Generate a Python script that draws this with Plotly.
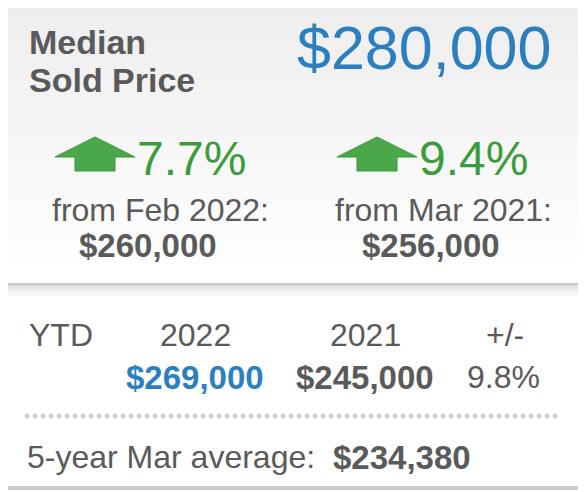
import plotly.graph_objects as go

title_lines = ["Median", "Sold Price"]
median_price = "$280,000"
change_pcts = ["7.7%", "9.4%"]
change_from = ["from Feb 2022:", "from Mar 2021:"]
change_base = ["$260,000", "$256,000"]
ytd_headers = ["YTD", "2022", "2021", "+/-"]
ytd_values = ["", "$269,000", "$245,000", "9.8%"]
avg_label = "5-year Mar average:"
avg_value = "$234,380"

GRAY = "#5a5a5a"
BLUE = "#2b7fc1"
GREEN = "#3c9c3c"
FONT = "Liberation Sans, Arial"

fig = go.Figure()
shapes = []
ann = []

def txt(x, y, s, size, color=GRAY, bold=False, anchor="left"):
    if bold:
        s = "<b>" + s + "</b>"
    ann.append(dict(x=x, y=y, text=s, showarrow=False, xanchor=anchor, yanchor="middle",
                    font=dict(size=size, color=color, family=FONT), xref="x", yref="y"))

# top panel background + shadow
for i, c in enumerate(["#d8d8d8", "#e4e4e4", "#eeeeee", "#f6f6f6"]):
    shapes.append(dict(type="rect", x0=0, x1=600, y0=283 + i * 3, y1=287 + i * 3,
                       fillcolor=c, line_width=0, layer="below"))
for i in range(14):
    g = 238 + int(i * 17 / 13)
    shapes.append(dict(type="rect", x0=0, x1=600, y0=i * 20, y1=i * 20 + 21,
                       fillcolor=f"rgb({g},{g},{g})", line_width=0, layer="below"))
shapes.append(dict(type="rect", x0=1, x1=600, y0=0, y1=284, fillcolor="rgba(0,0,0,0)",
                   line=dict(color="#c8c8c8", width=2)))
shapes.append(dict(type="line", x0=1, x1=1, y0=284, y1=488, line=dict(color="#d0d0d0", width=2)))
shapes.append(dict(type="line", x0=0, x1=600, y0=488, y1=488, line=dict(color="#cccccc", width=4)))

txt(27, 42, title_lines[0], 34, bold=True)
txt(27, 80, title_lines[1], 34, bold=True)
txt(553, 48, median_price, 61, color=BLUE, anchor="right")

for k, x0 in enumerate([55, 337]):
    shapes.append(dict(type="path",
                       path=f"M{x0},157 L{x0+40},137 L{x0+80},157 L{x0+60},157 L{x0+60},171 L{x0+20},171 L{x0+20},157 Z",
                       fillcolor="#4aa84a", line=dict(color="#3c963c", width=1)))
    txt(x0 + 80, 158, change_pcts[k], 48, color=GREEN)
centers = [160, 443]
for k in range(2):
    txt(centers[k], 210, change_from[k], 32, anchor="center")
    txt(centers[k] - 12, 245, change_base[k], 33, bold=True, anchor="center")

cols = [27, 195, 365, 505]
for k in range(4):
    txt(cols[k], 335, ytd_headers[k], 32, anchor="left" if k == 0 else "center")
    if ytd_values[k]:
        txt(cols[k] if k < 3 else 503, 377, ytd_values[k], 33 if k < 3 else 32,
            color=BLUE if k == 1 else GRAY, bold=k in (1, 2), anchor="center")

dots_x = list(range(27, 556, 8))
fig.add_trace(go.Scatter(x=dots_x, y=[416] * len(dots_x), mode="markers",
                         marker=dict(size=5, color="#cfcfcf"), hoverinfo="skip"))

txt(25, 457, avg_label, 32)
txt(331, 457, avg_value, 33, bold=True)

# page body has an 8px margin; shift the data window to compensate
fig.update_layout(width=586, height=492, margin=dict(l=0, r=0, t=0, b=0),
                  paper_bgcolor="white", plot_bgcolor="white", showlegend=False,
                  shapes=shapes, annotations=ann,
                  xaxis=dict(range=[8, 594], visible=False, fixedrange=True),
                  yaxis=dict(range=[500, 8], visible=False, fixedrange=True))
fig.write_html("out.html", config={"displayModeBar": False})
